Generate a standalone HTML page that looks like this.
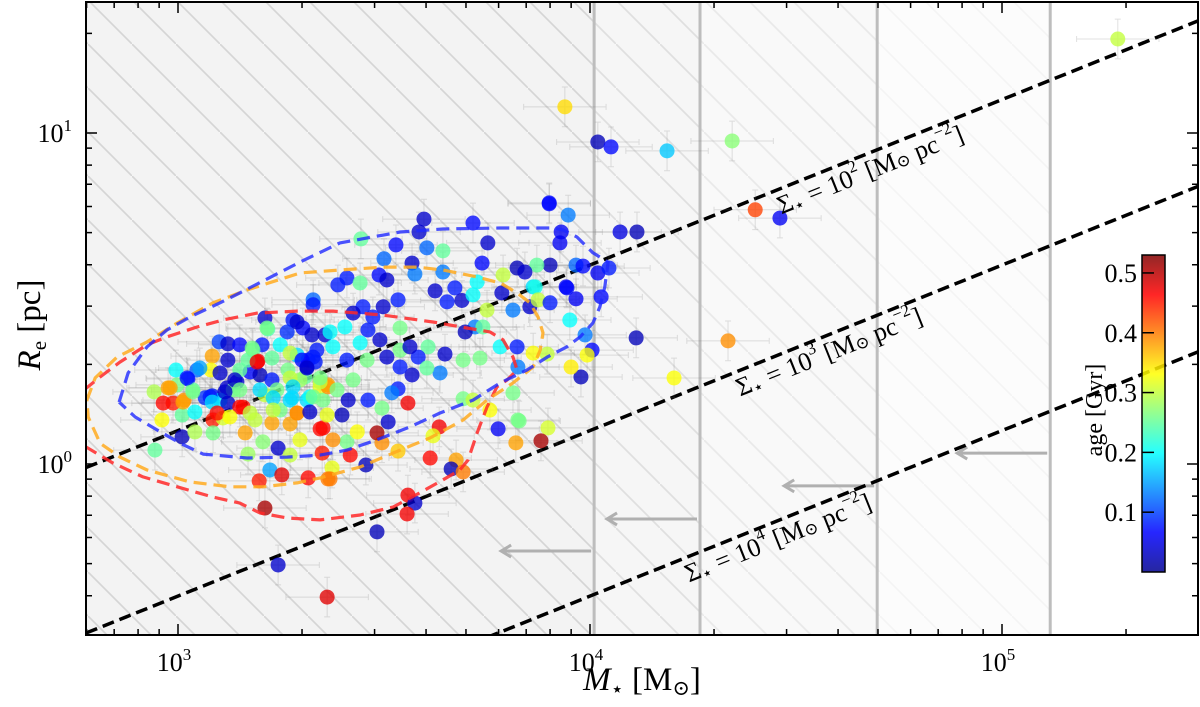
<!DOCTYPE html>
<html><head><meta charset="utf-8"><title>Re vs Mstar</title>
<style>
html,body{margin:0;padding:0;background:#fff;width:1200px;height:707px;overflow:hidden;}
svg{display:block;font-family:"Liberation Serif","DejaVu Serif",serif;}
</style></head>
<body>
<svg id="chart" width="1200" height="707" viewBox="0 0 1200 707" xmlns="http://www.w3.org/2000/svg" overflow="hidden">
<defs>
<clipPath id="plotclip"><rect x="86" y="2" width="1112" height="633"/></clipPath>
<pattern id="hatch" patternUnits="userSpaceOnUse" width="44" height="44">
<line x1="-2" y1="-2" x2="46" y2="46" stroke="rgba(0,0,0,0.03)" stroke-width="1.6"/>
</pattern>
<linearGradient id="jetgrad" x1="0" y1="1" x2="0" y2="0">
<stop offset="0" stop-color="#00008f"/>
<stop offset="0.125" stop-color="#0000ff"/>
<stop offset="0.375" stop-color="#00ffff"/>
<stop offset="0.625" stop-color="#ffff00"/>
<stop offset="0.875" stop-color="#ff0000"/>
<stop offset="1" stop-color="#800000"/>
</linearGradient>
</defs>
<g id="bg" clip-path="url(#plotclip)"></g>
<g id="lines" clip-path="url(#plotclip)"></g>
<g id="errs" clip-path="url(#plotclip)"></g>
<g id="pts" clip-path="url(#plotclip)"></g>
<g id="contours" clip-path="url(#plotclip)"></g>
<g id="annot"></g>
<g id="axes"></g>
<g id="cbar"></g>
</svg>
<script>
// ---- data ----
const logMass = [5.281,3.939,4.019,4.051,4.187,4.345,4.401,4.461,3.901,3.947,4.073,4.114,3.930,3.927,4.112,4.335,4.204,3.978,3.954,4.005,3.988,3.951,3.966,4.027,3.942,3.903,3.966,3.983,4.019,4.046,3.871,3.862,
3.757,3.777,3.828,3.898,3.820,3.881,3.634,3.619,3.612,3.675,3.663,3.692,3.558,3.575,3.556,3.483,3.362,3.456,3.534,3.495,3.483,3.418,3.374,3.369,3.558,3.510,3.398,3.352,3.410,3.376,3.435,3.243,3.211,
3.211,3.218,3.100,3.121,3.150,3.204,3.182,3.083,3.121,3.194,3.228,2.995,3.046,3.080,3.102,3.143,3.175,3.199,3.228,3.024,2.998,2.981,2.942,2.988,3.015,3.036,3.083,3.119,3.134,3.066,3.102,3.121,3.150,3.010,3.041,3.085,3.109,2.961,3.010,3.041,3.085,3.163,2.944,3.206,3.243,3.170,3.223,3.252,3.197,3.316,3.364,3.228,3.272,3.289,3.345,3.350,3.328,3.279,3.303,3.357,3.265,3.316,3.289,3.337,3.267,3.308,3.345,3.277,3.313,3.352,3.362,3.364,
3.597,3.716,3.901,3.585,3.752,3.444,3.529,3.604,3.643,3.500,3.568,3.575,3.488,3.643,3.738,3.410,3.388,3.442,3.823,3.789,3.842,3.726,3.672,3.624,3.653,3.689,3.716,3.786,3.867,3.944,3.813,3.854,3.874,3.903,3.750,3.721,3.740,3.697,3.782,3.823,3.862,3.896,3.825,3.993,3.692,3.733,3.648,3.607,3.583,3.568,3.636,3.604,3.539,3.539,3.692,3.716,3.813,3.825,3.534,3.519,3.495,3.461,3.413,3.364,3.320,3.507,3.534,3.498,3.449,3.425,3.473,3.405,3.369,3.461,3.490,3.442,3.410,3.459,3.507,3.376,3.328,3.313,3.425,3.386,3.345,3.539,3.563,
3.328,3.289,3.325,3.170,3.150,3.053,3.296,3.333,3.248,3.211,3.248,3.187,3.296,3.272,
3.216,3.180,3.192,3.272,3.301,3.138,3.272,3.313,3.345,3.022,2.976,2.964,3.012,3.036,3.078,3.114,3.150,3.199,3.240,3.279,3.328,3.083,3.158,3.231,3.272,3.095,3.126,3.175,3.231,3.289,3.320];
const logRe = [1.284,1.079,0.973,0.958,0.946,0.976,0.768,0.743,0.789,0.752,0.701,0.701,0.701,0.668,0.381,0.372,0.260,0.263,0.293,0.344,0.390,0.435,0.499,0.505,0.535,0.601,0.601,0.598,0.577,0.592,0.601,0.535,
0.163,0.106,0.130,0.109,0.064,0.070,0.112,0.085,0.018,0.012,-0.015,-0.024,-0.094,-0.118,-0.151,-0.205,-0.402,-0.003,0.039,0.064,0.094,0.027,-0.012,-0.045,0.184,0.127,0.148,0.109,0.067,0.073,0.097,-0.305,-0.133,
0.441,0.408,0.369,0.363,0.360,0.360,0.344,0.326,0.314,0.311,0.320,0.284,0.284,0.284,0.275,0.248,0.278,0.269,0.254,0.257,0.239,0.230,0.218,0.184,0.193,0.224,0.206,0.230,0.224,0.200,0.193,0.184,0.172,0.148,0.157,0.133,0.139,0.133,0.082,0.097,0.094,0.094,0.042,0.067,0.048,0.030,-0.018,-0.033,-0.051,-0.042,-0.045,0.124,0.121,0.154,0.106,0.033,0.496,0.435,0.411,0.390,0.399,0.314,0.329,0.344,0.284,0.263,0.233,0.200,0.193,0.193,0.148,0.233,
0.740,0.728,0.786,0.701,0.668,0.680,0.662,0.653,0.644,0.620,0.607,0.574,0.571,0.580,0.607,0.562,0.541,0.547,0.592,0.571,0.580,0.550,0.532,0.523,0.490,0.494,0.511,0.517,0.535,0.532,0.465,0.475,0.496,0.487,0.465,0.414,0.414,0.399,0.354,0.354,0.335,0.332,0.293,0.329,0.314,0.320,0.332,0.354,0.323,0.269,0.275,0.290,0.293,0.344,0.197,0.193,0.215,0.133,0.227,0.215,0.169,0.193,0.193,0.239,0.203,0.556,0.496,0.475,0.475,0.456,0.444,0.414,0.399,0.405,0.375,0.366,0.314,0.314,0.323,0.354,0.323,0.293,0.254,0.224,0.248,0.411,0.354,
0.481,0.429,0.390,0.314,0.284,0.290,0.254,0.308,0.360,0.209,0.163,0.133,0.073,0.027,
0.411,0.350,0.308,0.335,0.314,0.254,0.260,0.290,0.260,0.260,0.230,0.184,0.187,0.218,0.203,0.218,0.224,0.224,0.224,0.233,0.203,0.187,0.172,0.200,0.193,0.154,0.142,0.154,0.163,0.154,0.157];
const ageGyr = [0.30,0.35,0.03,0.07,0.17,0.27,0.43,0.06,0.07,0.13,0.05,0.03,0.06,0.06,0.03,0.39,0.33,0.03,0.34,0.07,0.13,0.20,0.06,0.07,0.06,0.03,0.12,0.07,0.06,0.08,0.25,0.18,
0.33,0.06,0.26,0.31,0.38,0.51,0.47,0.32,0.46,0.38,0.03,0.40,0.47,0.04,0.47,0.03,0.48,0.03,0.36,0.39,0.51,0.46,0.32,0.40,0.47,0.04,0.03,0.46,0.26,0.39,0.33,0.04,0.51,
0.04,0.24,0.10,0.04,0.07,0.08,0.25,0.38,0.04,0.46,0.25,0.20,0.12,0.33,0.04,0.04,0.07,0.03,0.08,0.07,0.26,0.38,0.29,0.45,0.39,0.25,0.08,0.04,0.26,0.09,0.19,0.04,0.46,0.25,0.20,0.45,0.31,0.33,0.03,0.29,0.26,0.38,0.25,0.27,0.04,0.28,0.15,0.48,0.45,0.46,0.40,0.38,0.38,0.39,0.46,0.45,0.12,0.08,0.07,0.04,0.09,0.07,0.18,0.08,0.26,0.25,0.32,0.18,0.18,0.26,0.32,0.39,
0.04,0.07,0.07,0.04,0.04,0.25,0.07,0.12,0.25,0.12,0.04,0.13,0.07,0.13,0.07,0.08,0.08,0.25,0.03,0.30,0.04,0.20,0.08,0.04,0.08,0.04,0.20,0.04,0.21,0.07,0.13,0.04,0.30,0.08,0.30,0.13,0.25,0.03,0.20,0.08,0.33,0.30,0.13,0.33,0.26,0.26,0.04,0.25,0.08,0.04,0.13,0.25,0.08,0.26,0.26,0.30,0.26,0.26,0.08,0.13,0.26,0.08,0.04,0.38,0.20,0.04,0.08,0.04,0.08,0.04,0.08,0.20,0.20,0.08,0.04,0.20,0.08,0.26,0.04,0.20,0.08,0.04,0.26,0.26,0.30,0.26,0.04,
0.08,0.04,0.04,0.25,0.25,0.15,0.28,0.08,0.20,0.30,0.26,0.30,0.32,0.30,
0.26,0.26,0.47,0.30,0.07,0.04,0.30,0.04,0.26,0.08,0.38,0.46,0.38,0.26,0.08,0.04,0.26,0.18,0.26,0.18,0.26,0.18,0.46,0.18,0.18,0.46,0.33,0.30,0.30,0.39,0.04];

const contourBlueM = [2.857,2.879,2.925,2.973,3.029,3.102,3.150,3.296,3.393,3.539,3.643,3.782,3.910,3.935,3.968,4.007,4.044,4.036,4.024,4.007,3.976,3.944,3.896,3.847,3.782,3.716,3.636,3.563,3.483,3.410,3.345,3.265,3.168,3.061,3.005,2.949,2.896,2.857];
const contourBlueR = [0.187,0.275,0.354,0.405,0.444,0.487,0.517,0.610,0.668,0.701,0.710,0.713,0.713,0.707,0.686,0.638,0.610,0.535,0.475,0.426,0.384,0.354,0.323,0.284,0.245,0.193,0.154,0.112,0.073,0.042,0.027,0.021,0.018,0.030,0.063,0.103,0.142,0.187];
const contourOrangeM = [2.779,2.799,2.852,2.925,2.998,3.085,3.168,3.296,3.393,3.498,3.580,3.643,3.726,3.782,3.823,3.854,3.874,3.886,3.879,3.862,3.813,3.750,3.692,3.612,3.539,3.442,3.345,3.289,3.206,3.126,3.029,2.925,2.859,2.811,2.782,2.779];
const contourOrangeR = [0.193,0.260,0.323,0.369,0.426,0.487,0.526,0.577,0.586,0.595,0.595,0.586,0.565,0.547,0.517,0.487,0.444,0.396,0.344,0.293,0.245,0.193,0.133,0.079,0.042,-0.009,-0.042,-0.057,-0.069,-0.069,-0.054,-0.018,0.021,0.063,0.142,0.193];
const contourRedM = [2.772,2.811,2.859,2.925,2.973,3.046,3.109,3.192,3.289,3.376,3.498,3.619,3.701,3.757,3.789,3.813,3.823,3.799,3.774,3.750,3.726,3.704,3.684,3.643,3.587,3.522,3.442,3.345,3.265,3.199,3.150,3.085,2.998,2.915,2.842,2.772];
const contourRedR = [0.224,0.263,0.308,0.360,0.384,0.414,0.435,0.456,0.462,0.462,0.450,0.429,0.411,0.399,0.375,0.323,0.284,0.254,0.233,0.172,0.094,0.012,-0.018,-0.048,-0.087,-0.130,-0.154,-0.169,-0.163,-0.148,-0.118,-0.100,-0.069,-0.039,0.003,0.055];

const sigmaLevels = [2,3,4];
const sigmaLabelM = [4.68,4.58,4.456];
const limitLogM = [4.010,4.267,4.697,5.117];
const arrowLogR = [-0.263,-0.166,-0.066,0.033];
const xTickExp = [3,4,5];
const yTickExp = [0,1];
const cbarTicks = [0.1,0.2,0.3,0.4,0.5];
const cbarMin = 0.0, cbarMax = 0.53;

// ---- scales ----
const X0=86,X1=1198,Y0=2,Y1=635;
const xMin=2.7767,xMax=5.4757,yMin=-0.5166,yMax=1.3958;
function sx(lm){return X0+(lm-xMin)/(xMax-xMin)*(X1-X0);}
function sy(lr){return Y1-(lr-yMin)/(yMax-yMin)*(Y1-Y0);}
const NS='http://www.w3.org/2000/svg';
function mk(tag,attrs,parent){const e=document.createElementNS(NS,tag);for(const k in attrs)e.setAttribute(k,attrs[k]);if(parent)parent.appendChild(e);return e;}
function jet(v){const t=Math.max(0,Math.min(1,(v-cbarMin)/(cbarMax-cbarMin)));
 const c=x=>Math.round(255*Math.max(0,Math.min(1,x)));
 return 'rgb('+c(1.5-Math.abs(4*t-3))+','+c(1.5-Math.abs(4*t-2))+','+c(1.5-Math.abs(4*t-1))+')';}

// ---- background regions ----
const bg=document.getElementById('bg');
limitLogM.forEach((m,i)=>{
 const r=mk('rect',{x:X0,y:Y0,width:sx(m)-X0,height:Y1-Y0,fill:'rgba(0,0,0,0.0125)'},bg);
 
 
 const h=mk('rect',{x:X0,y:Y0,width:sx(m)-X0,height:Y1-Y0,fill:'url(#hatch)'},bg);
 
 
});
limitLogM.forEach((m,i)=>{
 const l=mk('line',{x1:sx(m),x2:sx(m),y1:Y0,y2:Y1,stroke:'#bdbdbd','stroke-width':3},bg);
 
 
 const ay=sy(arrowLogR[i]), ax=sx(m)-3, bx=ax-90;
 const a=mk('path',{d:'M'+ax+' '+ay+' L'+bx+' '+ay+' M'+(bx+10)+' '+(ay-6)+' L'+bx+' '+ay+' L'+(bx+10)+' '+(ay+6),stroke:'#b0b0b0','stroke-width':3,fill:'none'},bg);
 
 
});

// ---- surface density lines ----
const lg=document.getElementById('lines');
const L2PI=Math.log10(2*Math.PI);
function sigR(lm,s){return 0.5*(lm-L2PI-s);}
sigmaLevels.forEach(s=>{
 const l=mk('line',{x1:sx(xMin),y1:sy(sigR(xMin,s)),x2:sx(xMax),y2:sy(sigR(xMax,s)),stroke:'#000','stroke-width':3.5,'stroke-dasharray':'12 6'},lg);
 
 
});

// ---- error bars + points ----
const eg=document.getElementById('errs'), pg=document.getElementById('pts');
for(let i=0;i<logMass.length;i++){
 const x=sx(logMass[i]), y=sy(logRe[i]);
 const xl=sx(logMass[i]-0.1), xr=sx(logMass[i]+0.1), yt=sy(logRe[i]+0.06), yb=sy(logRe[i]-0.06);
 const e=mk('path',{d:'M'+xl+' '+y+'H'+xr+'M'+x+' '+yt+'V'+yb+'M'+xl+' '+(y-3)+'V'+(y+3)+'M'+xr+' '+(y-3)+'V'+(y+3)+'M'+(x-3)+' '+yt+'H'+(x+3)+'M'+(x-3)+' '+yb+'H'+(x+3),stroke:'rgba(120,120,120,0.22)','stroke-width':1,fill:'none'},eg);
 
 
 const c=mk('circle',{cx:x,cy:y,r:7.5,fill:jet(ageGyr[i]),'fill-opacity':0.78},pg);
 
 
}

// ---- contours ----
const cg=document.getElementById('contours');
[[contourRedM,contourRedR,'rgba(255,40,40,0.85)','contour-red'],[contourOrangeM,contourOrangeR,'rgba(255,170,30,0.85)','contour-orange'],[contourBlueM,contourBlueR,'rgba(30,40,255,0.8)','contour-blue']].forEach(cn=>{
 const d=cn[0].map((m,j)=>(j?'L':'M')+sx(m).toFixed(1)+' '+sy(cn[1][j]).toFixed(1)).join('');
 const p=mk('path',{d:d,stroke:cn[2],'stroke-width':3.2,fill:'none','stroke-dasharray':'13 7','stroke-linejoin':'round'},cg);
 
 
});

// ---- annotations ----
const an=document.getElementById('annot');
const ang=-Math.atan(0.5*(Y1-Y0)/(yMax-yMin)/((X1-X0)/(xMax-xMin)))*180/Math.PI;
sigmaLevels.forEach((s,i)=>{
 const lm=sigmaLabelM[i], x=sx(lm), y=sy(sigR(lm,s))+17;
 const t=mk('text',{x:0,y:0,transform:'translate('+x+','+y+') rotate('+ang+')','text-anchor':'middle','dominant-baseline':'central','font-size':26,fill:'#000'},an);
 
 
 t.innerHTML='Σ<tspan font-size="17" dy="6">⋆</tspan><tspan dy="-6"> = 10</tspan><tspan font-size="17" dy="-10">'+s+'</tspan><tspan dy="10"> [M</tspan><tspan font-size="17" dy="4">⊙</tspan><tspan dy="-4"> pc</tspan><tspan font-size="17" dy="-10">−2</tspan><tspan dy="10">]</tspan>';
});

// ---- axes ----
const ax=document.getElementById('axes');
const frame=mk('rect',{x:X0,y:Y0,width:X1-X0,height:Y1-Y0,fill:'none',stroke:'#000','stroke-width':2},ax);


for(let d=2;d<=5;d++){for(let k=1;k<10;k++){
 const lm=d+Math.log10(k); if(lm<xMin||lm>xMax)continue;
 const x=sx(lm), len=k===1?11:6;
 const t=mk('path',{d:'M'+x+' '+Y1+'V'+(Y1-len)+'M'+x+' '+Y0+'V'+(Y0+len),stroke:'#000','stroke-width':1.5},ax);
 
 
}}
for(let d=-1;d<=1;d++){for(let k=1;k<10;k++){
 const lr=d+Math.log10(k); if(lr<yMin||lr>yMax)continue;
 const y=sy(lr), len=k===1?11:6;
 const t=mk('path',{d:'M'+X0+' '+y+'H'+(X0+len)+'M'+X1+' '+y+'H'+(X1-len),stroke:'#000','stroke-width':1.5},ax);
 
 
}}
xTickExp.forEach(e=>{
 const t=mk('text',{x:sx(e)-4,y:Y1+36,'text-anchor':'middle','font-size':26},ax);
 
 
 t.innerHTML='10<tspan font-size="17" dy="-11">'+e+'</tspan>';
});
yTickExp.forEach(e=>{
 const t=mk('text',{x:X0-14,y:sy(e)+9,'text-anchor':'end','font-size':26},ax);
 
 
 t.innerHTML='10<tspan font-size="17" dy="-11">'+e+'</tspan>';
});
const xl=mk('text',{x:642,y:690,'text-anchor':'middle','font-size':33},ax);


xl.innerHTML='<tspan font-style="italic">M</tspan><tspan font-size="21" dy="6">⋆</tspan><tspan dy="-6"> [M</tspan><tspan font-size="21" dy="5">⊙</tspan><tspan dy="-5">]</tspan>';
const yl=mk('text',{x:0,y:0,transform:'translate(40,325) rotate(-90)','text-anchor':'middle','font-size':33},ax);


yl.innerHTML='<tspan font-style="italic">R</tspan><tspan font-size="21" dy="6">e</tspan><tspan dy="-6"> [pc]</tspan>';

// ---- colorbar ----
const cb=document.getElementById('cbar');
const CBX=1142,CBW=23,CBT=255,CBB=572;
const cbr=mk('rect',{x:CBX,y:CBT,width:CBW,height:CBB-CBT,fill:'url(#jetgrad)','fill-opacity':0.85,stroke:'#000','stroke-width':1.5},cb);


function cy(v){return CBB-(v-cbarMin)/(cbarMax-cbarMin)*(CBB-CBT);}
cbarTicks.forEach(v=>{
 const t=mk('line',{x1:CBX,x2:CBX+12,y1:cy(v),y2:cy(v),stroke:'#000','stroke-width':1.5},cb);
 
 
 const l=mk('text',{x:CBX-5,y:cy(v)+9,'text-anchor':'end','font-size':26},cb);
 
 
 l.textContent=v.toFixed(1);
});
const cl=mk('text',{x:0,y:0,transform:'translate(1102,410) rotate(-90)','text-anchor':'middle','font-size':24},cb);


cl.textContent='age [Gyr]';
</script>
</body></html>
